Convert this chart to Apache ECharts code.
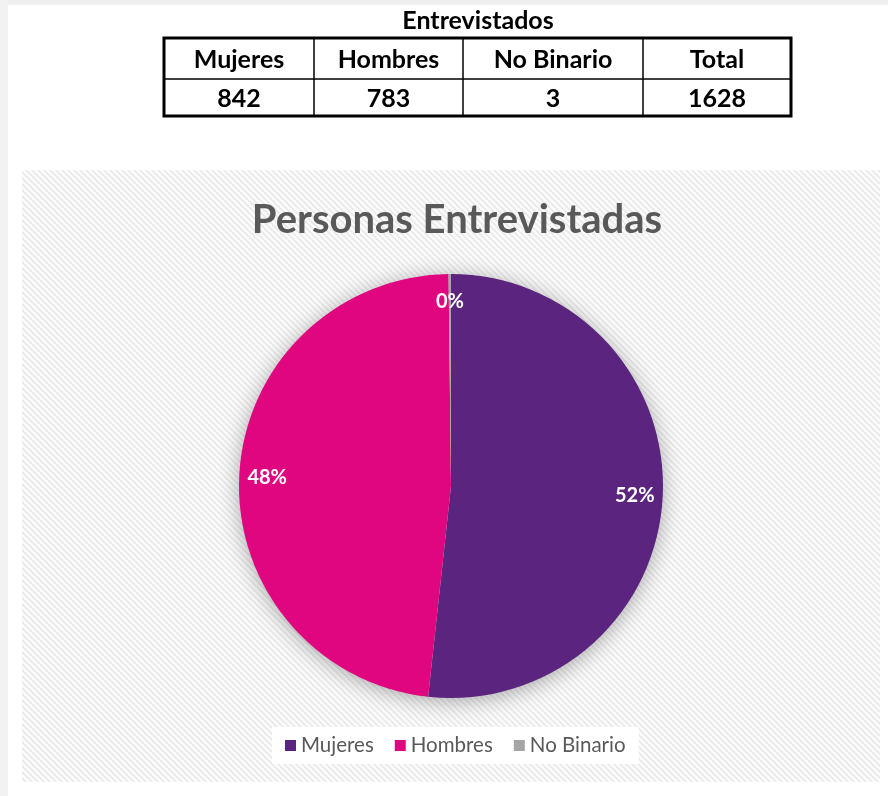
<!DOCTYPE html>
<html>
<head>
<meta charset="utf-8">
<script src="https://cdn.jsdelivr.net/npm/echarts@6/dist/echarts.min.js"></script>
<style>
  html, body { margin: 0; padding: 0; background: #fff; }
  #main { width: 888px; height: 796px; }
</style>
</head>
<body>
<div id="main"></div>
<script>
// tabla de entrevistados
const tableTitle = 'Entrevistados';
const tableHeaders = ['Mujeres', 'Hombres', 'No Binario', 'Total'];
const tableValues = [842, 783, 3, 1628];

// grafico de pastel
const chartTitle = 'Personas Entrevistadas';
const categories = ['Mujeres', 'Hombres', 'No Binario'];
const values = [842, 783, 3];
const colors = ['#5a247f', '#e0067f', '#a5a5a5'];

// layout de la tabla
const colX = [164, 314, 463, 643, 791];
const rowY = [38, 79, 116];

// fondo rayado
function makeHatch() {
  const c = document.createElement('canvas');
  c.width = 6; c.height = 6;
  const ctx = c.getContext('2d');
  ctx.fillStyle = '#fbfbfb';
  ctx.fillRect(0, 0, 6, 6);
  ctx.strokeStyle = '#e9e9e9';
  ctx.lineWidth = 1.6;
  ctx.beginPath();
  ctx.moveTo(-3, -3); ctx.lineTo(9, 9);
  ctx.moveTo(-9, -3); ctx.lineTo(3, 9);
  ctx.moveTo(3, -3); ctx.lineTo(15, 9);
  ctx.stroke();
  return c;
}

let graphics = [
  // bordes grises del pantallazo
  { type: 'rect', shape: { x: 0, y: 0, width: 888, height: 5 }, style: { fill: '#efefef' }, silent: true },
  { type: 'rect', shape: { x: 0, y: 0, width: 8, height: 796 }, style: { fill: '#f2f2f2' }, silent: true },
  // area del grafico
  { type: 'rect', z: -10, shape: { x: 22, y: 170, width: 858, height: 612 },
    style: { fill: { image: makeHatch(), repeat: 'repeat' } }, silent: true },
  // titulo tabla
  { type: 'text', x: 478, y: 21, style: { text: tableTitle, font: 'bold 25px Lato', fill: '#000', align: 'center', verticalAlign: 'middle' } }
];

// celdas
for (let i = 0; i < tableHeaders.length; i++) {
  const cx = (colX[i] + colX[i + 1]) / 2;
  graphics.push({ type: 'text', x: cx, y: (rowY[0] + rowY[1]) / 2 + 1,
    style: { text: tableHeaders[i], font: 'bold 25px Lato', fill: '#000', align: 'center', verticalAlign: 'middle' } });
  graphics.push({ type: 'text', x: cx, y: (rowY[1] + rowY[2]) / 2 + 1,
    style: { text: String(tableValues[i]), font: 'bold 25px Lato', fill: '#000', align: 'center', verticalAlign: 'middle' } });
  if (i > 0) {
    graphics.push({ type: 'line', shape: { x1: colX[i], y1: rowY[0], x2: colX[i], y2: rowY[2] }, style: { stroke: '#000', lineWidth: 1.5 } });
  }
}
graphics.push({ type: 'line', shape: { x1: colX[0], y1: rowY[1], x2: colX[4], y2: rowY[1] }, style: { stroke: '#000', lineWidth: 1.5 } });
graphics.push({ type: 'rect', shape: { x: colX[0], y: rowY[0], width: colX[4] - colX[0], height: rowY[2] - rowY[0] },
  style: { fill: null, stroke: '#000', lineWidth: 3 } });

// sombra del pastel
graphics.push({ type: 'circle', z: -5, shape: { cx: 451, cy: 486, r: 211 },
  style: { fill: '#ddd', shadowBlur: 22, shadowOffsetY: 3, shadowColor: 'rgba(0,0,0,0.35)' }, silent: true });

const pieData = categories.map((name, i) => ({ name: name, value: values[i], itemStyle: { color: colors[i] } }));

const chart = echarts.init(document.getElementById('main'));
chart.setOption({
  animation: false,
  backgroundColor: '#fff',
  title: {
    text: chartTitle,
    left: 452, top: 195, textAlign: 'center',
    textStyle: { fontFamily: 'Lato', fontWeight: 'bold', fontSize: 40, color: '#595959' }
  },
  legend: {
    data: categories,
    left: 272, top: 727,
    backgroundColor: '#fff',
    padding: [8, 13, 8, 13],
    icon: 'rect', itemWidth: 11, itemHeight: 11, itemGap: 21,
    textStyle: { fontFamily: 'Lato', fontSize: 20.5, color: '#595959' }
  },
  graphic: graphics,
  series: [
    {
      type: 'pie',
      center: [451, 486],
      radius: 212,
      startAngle: 90,
      clockwise: true,
      avoidLabelOverlap: false,
      label: { show: false },
      labelLine: { show: false },
      data: pieData
    },
    {
      // capa solo para las etiquetas cerca del borde
      type: 'pie',
      center: [451, 486],
      radius: [150, 212],
      startAngle: 90,
      clockwise: true,
      silent: true,
      avoidLabelOverlap: false,
      legendHoverLink: false,
      itemStyle: { color: 'rgba(0,0,0,0)' },
      label: {
        show: true, position: 'inside',
        formatter: p => Math.round(p.percent) + '%',
        fontFamily: 'Lato', fontWeight: 'bold', fontSize: 20, color: '#fff'
      },
      labelLine: { show: false },
      data: categories.map((name, i) => ({ name: name, value: values[i] }))
    }
  ]
});
</script>
</body>
</html>
